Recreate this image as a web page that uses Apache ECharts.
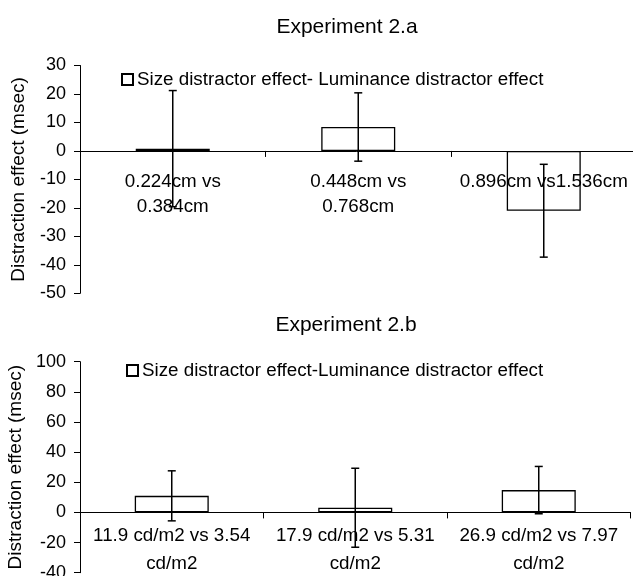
<!DOCTYPE html>
<html>
<head>
<meta charset="utf-8">
<script src="https://cdn.jsdelivr.net/npm/echarts@6/dist/echarts.min.js"></script>
<style>
html,body{margin:0;padding:0;background:#fff;}
#chart{width:633px;height:576px;}
</style>
</head>
<body>
<div id="chart"></div>
<script>
// ---- Data ----
const titleA = 'Experiment 2.a';
const titleB = 'Experiment 2.b';
const yAxisName = 'Distraction effect (msec)';
const seriesNameA = 'Size distractor effect- Luminance distractor effect';
const seriesNameB = 'Size distractor effect-Luminance distractor effect';
const categoriesA = ['0.224cm vs\n0.384cm', '0.448cm vs\n0.768cm', '0.896cm vs1.536cm'];
const valuesA = [0.8, 8.4, -21];
const errorsA = [20.4, 12, 16.3];
const categoriesB = ['11.9 cd/m2 vs 3.54\ncd/m2', '17.9 cd/m2 vs 5.31\ncd/m2', '26.9 cd/m2 vs 7.97\ncd/m2'];
const valuesB = [11, 3.1, 14.8];
const errorsB = [16.6, 26.2, 15.7];
const yTicksA = {min: -50, max: 30, interval: 10};
const yTicksB = {min: -40, max: 100, interval: 20};

const FONT = '"Liberation Sans", Arial, sans-serif';

// layout
const gridA = {left: 80, top: 65.5, width: 556.5, height: 227.8};
const gridB = {left: 80, top: 361.7, width: 550.5, height: 211};

function errData(vals, errs) {
  return vals.map((v, i) => [i, v - errs[i], v + errs[i]]);
}

function errorRender(params, api) {
  const x = api.value(0);
  const lo = api.coord([x, api.value(1)]);
  const hi = api.coord([x, api.value(2)]);
  const cap = 4;
  const st = {stroke: '#000', lineWidth: 1.5};
  return {
    type: 'group',
    children: [
      {type: 'line', shape: {x1: hi[0], y1: hi[1], x2: lo[0], y2: lo[1]}, style: st},
      {type: 'line', shape: {x1: hi[0] - cap, y1: hi[1], x2: hi[0] + cap, y2: hi[1]}, style: st},
      {type: 'line', shape: {x1: lo[0] - cap, y1: lo[1], x2: lo[0] + cap, y2: lo[1]}, style: st}
    ]
  };
}

const axisLineStyle = {show: true, lineStyle: {color: '#000', width: 1}};

// x axis placed on the zero line of the value axis
function xAxis(gridIndex, cats, grid, t, margin, lh) {
  const zeroOffset = -grid.height * (0 - t.min) / (t.max - t.min);
  return {
    type: 'category', gridIndex: gridIndex, data: cats, position: 'bottom', offset: zeroOffset, z: 3,
    axisLine: Object.assign({onZero: false}, axisLineStyle),
    axisTick: {show: true, length: 6, lineStyle: {color: '#000'}},
    axisLabel: {interval: 0, margin: margin, color: '#000', fontFamily: FONT, fontSize: 18.8, lineHeight: lh},
    splitLine: {show: false}
  };
}

function yAxis(gridIndex, t) {
  return {
    type: 'value', gridIndex: gridIndex, min: t.min, max: t.max, interval: t.interval,
    name: yAxisName, nameLocation: 'middle', nameGap: 52, nameRotate: 90,
    nameTextStyle: {color: '#000', fontFamily: FONT, fontSize: 19},
    axisLine: axisLineStyle,
    axisTick: {show: true, length: 6, inside: false, lineStyle: {color: '#000'}},
    axisLabel: {margin: 14, color: '#000', fontFamily: FONT, fontSize: 18},
    splitLine: {show: false}
  };
}

const barStyle = {color: '#fff', borderColor: '#000', borderWidth: 1.3};

const option = {
  backgroundColor: '#fff',
  animation: false,
  title: [
    {text: titleA, left: 342, top: 12, textAlign: 'center', textStyle: {fontFamily: FONT, fontSize: 21, fontWeight: 'normal', color: '#000'}},
    {text: titleB, left: 341, top: 310, textAlign: 'center', textStyle: {fontFamily: FONT, fontSize: 21, fontWeight: 'normal', color: '#000'}}
  ],
  legend: [
    {data: [seriesNameA], left: 116, top: 65, itemWidth: 11, itemHeight: 11, icon: 'rect', itemGap: 0,
     textStyle: {fontFamily: FONT, fontSize: 18.8, color: '#000', padding: [0, 0, 0, -1]}},
    {data: [seriesNameB], left: 121, top: 356, itemWidth: 11, itemHeight: 11, icon: 'rect', itemGap: 0,
     textStyle: {fontFamily: FONT, fontSize: 18.8, color: '#000', padding: [0, 0, 0, -1]}}
  ],
  grid: [
    Object.assign({containLabel: false, outerBoundsMode: 'none'}, gridA),
    Object.assign({containLabel: false, outerBoundsMode: 'none'}, gridB)
  ],
  xAxis: [xAxis(0, categoriesA, gridA, yTicksA, 19, 24.5), xAxis(1, categoriesB, gridB, yTicksB, 9, 28)],
  yAxis: [yAxis(0, yTicksA), yAxis(1, yTicksB)],
  series: [
    {name: seriesNameA, type: 'bar', xAxisIndex: 0, yAxisIndex: 0, data: valuesA, barWidth: 74, itemStyle: barStyle, z: 2},
    {name: 'errA', type: 'custom', xAxisIndex: 0, yAxisIndex: 0, data: errData(valuesA, errorsA), renderItem: errorRender, z: 5},
    {name: seriesNameB, type: 'bar', xAxisIndex: 1, yAxisIndex: 1, data: valuesB, barWidth: 74, itemStyle: barStyle, z: 2},
    {name: 'errB', type: 'custom', xAxisIndex: 1, yAxisIndex: 1, data: errData(valuesB, errorsB), renderItem: errorRender, z: 5}
  ]
};

const chart = echarts.init(document.getElementById('chart'), null, {renderer: 'canvas'});
chart.setOption(option);
</script>
</body>
</html>
